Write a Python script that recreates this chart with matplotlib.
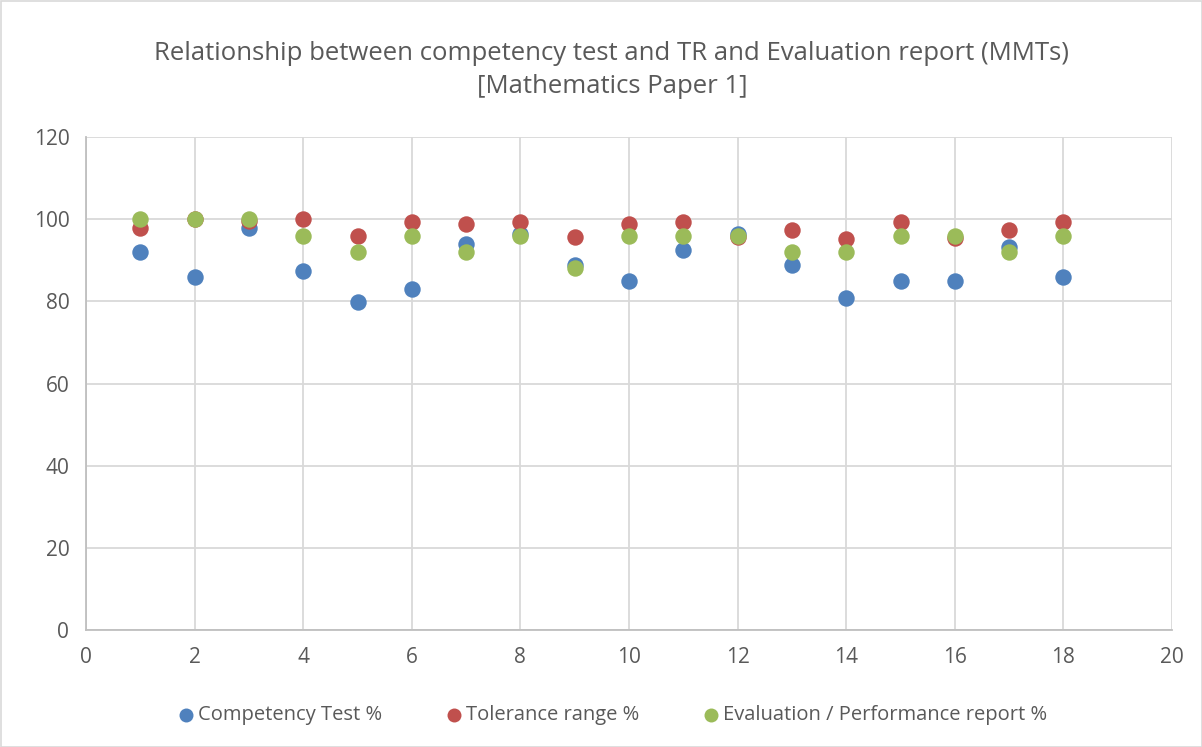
import matplotlib.pyplot as plt
from matplotlib.patches import Rectangle

x = list(range(1, 19))
competency = [92.0, 85.9, 97.9, 87.4, 79.8, 83.0, 94.0, 96.5, 88.9, 85.0,
              92.5, 96.4, 88.9, 80.7, 85.0, 85.0, 93.2, 85.9]
tolerance = [97.9, 100, 99.6, 100, 96.0, 99.3, 98.8, 99.3, 95.7, 98.8,
             99.3, 95.7, 97.4, 95.2, 99.3, 95.4, 97.4, 99.3]
evaluation = [100, 100, 100, 96, 92, 96, 92, 96, 88, 96,
              96, 96, 92, 92, 96, 96, 92, 96]

labels = ["Competency Test %", "Tolerance range %", "Evaluation / Performance report %"]
colors = ["#4f81bd", "#c0504d", "#9bbb59"]
txt = "#595959"

plt.rcParams["font.family"] = ["Open Sans", "DejaVu Sans"]

fig = plt.figure(figsize=(12.02, 7.47), dpi=100)
ax = fig.add_axes([86 / 1202, 1 - 630 / 747, (1172 - 86) / 1202, (630 - 137) / 747])

for ys, c, lab in zip([competency, tolerance, evaluation], colors, labels):
    ax.scatter(x, ys, s=140, color=c, label=lab, zorder=3, linewidths=0)

ax.set_xlim(0, 20)
ax.set_ylim(0, 120)
ax.set_xticks(range(0, 21, 2))
ax.set_yticks(range(0, 121, 20))
ax.grid(True, color="#d9d9d9", linewidth=1.3)
ax.set_axisbelow(True)
for s in ["top", "right"]:
    ax.spines[s].set_visible(False)
for s in ["left", "bottom"]:
    ax.spines[s].set_color("#bfbfbf")
    ax.spines[s].set_linewidth(1.3)
ax.tick_params(length=0, labelsize=15, colors=txt, pad=12)

fig.text(0.509, 1 - 70 / 747,
         "Relationship between competency test and TR and Evaluation report (MMTs)\n[Mathematics Paper 1]",
         ha="center", va="center", fontsize=18.5, color=txt, linespacing=1.45)

leg = fig.legend(loc="center", bbox_to_anchor=(0.51, 1 - 715 / 747), ncol=3, frameon=False,
                 fontsize=14.5, handlelength=0.7, handletextpad=0.25, columnspacing=3.2,
                 markerscale=0.85)
for t in leg.get_texts():
    t.set_color(txt)

fig.patches.append(Rectangle((0.5 / 1202, 0.5 / 747), 1 - 1 / 1202, 1 - 1 / 747,
                             transform=fig.transFigure, fill=False,
                             edgecolor="#d9d9d9", linewidth=1.2))

fig.savefig("out.png", dpi=100)
